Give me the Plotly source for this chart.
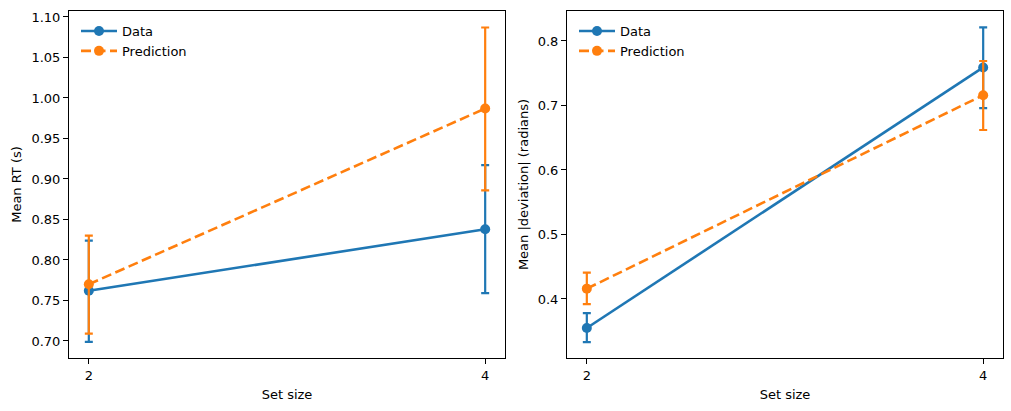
import plotly.graph_objects as go

set_size = [2, 4]
rt_data = [0.762, 0.838]
rt_data_lo = [0.699, 0.759]
rt_data_hi = [0.824, 0.917]
rt_pred = [0.770, 0.987]
rt_pred_lo = [0.709, 0.886]
rt_pred_hi = [0.830, 1.087]

dev_data = [0.355, 0.759]
dev_data_lo = [0.333, 0.696]
dev_data_hi = [0.378, 0.821]
dev_pred = [0.416, 0.716]
dev_pred_lo = [0.392, 0.662]
dev_pred_hi = [0.441, 0.769]

BLUE = "#1f77b4"
ORANGE = "#ff7f0e"
FONT = "DejaVu Sans, sans-serif"

def err(vals, lo, hi, color):
    return dict(type="data", symmetric=False,
                array=[h - v for v, h in zip(vals, hi)],
                arrayminus=[v - l for v, l in zip(vals, lo)],
                color=color, thickness=2.2, width=4)

fig = go.Figure()
for (vals, lo, hi, name, color, dash, xa, ya, leg) in [
    (rt_data, rt_data_lo, rt_data_hi, "Data", BLUE, "solid", "x", "y", "legend"),
    (rt_pred, rt_pred_lo, rt_pred_hi, "Prediction", ORANGE, "10px,4.5px", "x", "y", "legend"),
    (dev_data, dev_data_lo, dev_data_hi, "Data", BLUE, "solid", "x2", "y2", "legend2"),
    (dev_pred, dev_pred_lo, dev_pred_hi, "Prediction", ORANGE, "10px,4.5px", "x2", "y2", "legend2"),
]:
    fig.add_trace(go.Scatter(
        x=set_size, y=vals, name=name, mode="lines+markers",
        line=dict(color=color, width=2.6, dash=dash),
        marker=dict(color=color, size=10),
        error_y=err(vals, lo, hi, color),
        xaxis=xa, yaxis=ya, legend=leg))

W, H = 1011, 411
axis_common = dict(showline=True, linecolor="black", linewidth=1, mirror=True,
                   ticks="outside", ticklen=5, tickwidth=1, tickcolor="black",
                   showgrid=False, zeroline=False,
                   tickfont=dict(family=FONT, size=13, color="black"),
                   title_font=dict(family=FONT, size=13, color="black"))

fig.update_layout(
    width=W, height=H, margin=dict(l=0, r=0, t=0, b=0),
    plot_bgcolor="white", paper_bgcolor="white",
    font=dict(family=FONT, size=13, color="black"),
    xaxis=dict(domain=[69 / W, 505 / W], range=[1.9, 4.1], tickvals=set_size,
               anchor="y", title=dict(text="Set size", standoff=8), **axis_common),
    yaxis=dict(domain=[1 - 358 / H, 1 - 11 / H], range=[0.679, 1.1074], dtick=0.05,
               tickformat=".2f", anchor="x", title=dict(text="Mean RT (s)", standoff=6),
               **axis_common),
    xaxis2=dict(domain=[567 / W, 1003 / W], range=[1.9, 4.1], tickvals=set_size,
                anchor="y2", title=dict(text="Set size", standoff=8), **axis_common),
    yaxis2=dict(domain=[1 - 358 / H, 1 - 11 / H], range=[0.3085, 0.8465], dtick=0.1,
                tickformat=".1f", anchor="x2",
                title=dict(text="Mean |deviation| (radians)", standoff=6), **axis_common),
    legend=dict(x=76 / W, y=1 - 16 / H, xanchor="left", yanchor="top",
                bgcolor="rgba(0,0,0,0)", font=dict(family=FONT, size=13),
                tracegroupgap=0, itemwidth=36),
    legend2=dict(x=574 / W, y=1 - 16 / H, xanchor="left", yanchor="top",
                 bgcolor="rgba(0,0,0,0)", font=dict(family=FONT, size=13),
                 tracegroupgap=0, itemwidth=36),
)

fig.write_html("out.html")
